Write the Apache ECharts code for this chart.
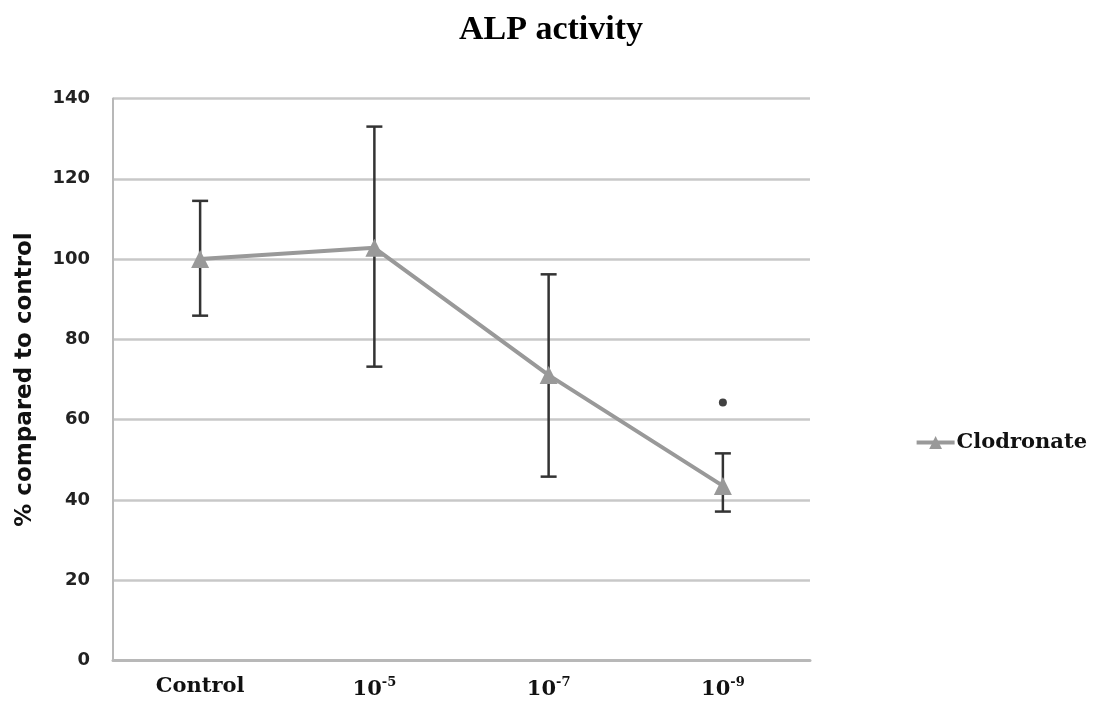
<!DOCTYPE html>
<html>
<head>
<meta charset="utf-8">
<script src="https://cdn.jsdelivr.net/npm/echarts@6/dist/echarts.min.js"></script>
<style>
  html, body { margin: 0; padding: 0; background: #fff; }
  #chart { width: 1102px; height: 704px; }
</style>
</head>
<body>
<div id="chart"></div>
<script>
// Concentrations of clodronate (Control, then 10^-5, 10^-7, 10^-9 M)
const categories = ['Control', '10^-5', '10^-7', '10^-9'];
// Mean ALP activity, % of control
const meanValues = [100, 102.8, 71.1, 43.5];
// Error bar ends
const errLow = [85.9, 73.2, 45.8, 37.1];
const errHigh = [114.5, 133.0, 96.2, 51.6];
// Significance mark above the 10^-9 group
const sigMarks = [[3, 64.3]];
const yTicks = [0, 20, 40, 60, 80, 100, 120, 140];

const chart = echarts.init(document.getElementById('chart'));

function catLabel(v) {
  if (v.indexOf('^') < 0) return '{b|' + v + '}';
  const parts = v.split('^');
  return '{b|' + parts[0] + '}{s|' + parts[1] + '}';
}

chart.setOption({
  animation: false,
  backgroundColor: '#ffffff',
  title: {
    text: 'ALP activity',
    left: 'center',
    top: 8,
    textStyle: { fontFamily: 'Liberation Serif', fontWeight: 'bold', fontSize: 34, color: '#000' }
  },
  legend: {
    data: ['Clodronate'],
    right: 10,
    top: 427,
    itemWidth: 38,
    itemHeight: 16,
    lineStyle: { width: 4 },
    textStyle: { fontFamily: 'DejaVu Serif', fontWeight: 'bold', fontSize: 21, color: '#111', padding: [0, 0, 0, -3] }
  },
  grid: { left: 113, right: 292, top: 98.5, bottom: 43.5, containLabel: false },
  xAxis: {
    type: 'category',
    data: categories,
    axisLine: { lineStyle: { color: '#b8b8b8', width: 3 } },
    axisTick: { show: false },
    axisLabel: {
      margin: 16,
      formatter: catLabel,
      rich: {
        b: { fontFamily: 'DejaVu Serif', fontWeight: 'bold', fontSize: 21, color: '#111', verticalAlign: 'bottom' },
        s: { fontFamily: 'DejaVu Serif', fontWeight: 'bold', fontSize: 13, color: '#111', verticalAlign: 'top', padding: [0, 0, 11, 0] }
      }
    }
  },
  yAxis: {
    type: 'value',
    min: 0,
    max: 140,
    interval: 20,
    name: '% compared to control',
    nameLocation: 'middle',
    nameGap: 76,
    nameTextStyle: { fontFamily: 'DejaVu Sans', fontWeight: 'bold', fontSize: 23, color: '#111' },
    axisLine: { show: true, lineStyle: { color: '#b8b8b8', width: 2 } },
    axisTick: { show: false },
    splitLine: { lineStyle: { color: '#c8c8c8', width: 2.5 } },
    axisLabel: {
      margin: 23,
      fontFamily: 'DejaVu Sans',
      fontWeight: 'bold',
      fontSize: 18,
      color: '#222',
      formatter: v => yTicks.indexOf(v) >= 0 ? String(v) : ''
    }
  },
  series: [
    {
      name: 'error',
      type: 'custom',
      z: 3,
      data: categories.map((c, i) => [i, errLow[i], errHigh[i]]),
      renderItem: function (params, api) {
        const i = api.value(0);
        const lo = api.coord([i, api.value(1)]);
        const hi = api.coord([i, api.value(2)]);
        const hw = 8;
        const style = { stroke: '#333333', lineWidth: 2.5 };
        return {
          type: 'group',
          children: [
            { type: 'line', shape: { x1: lo[0], y1: lo[1], x2: hi[0], y2: hi[1] }, style },
            { type: 'line', shape: { x1: hi[0] - hw, y1: hi[1], x2: hi[0] + hw, y2: hi[1] }, style },
            { type: 'line', shape: { x1: lo[0] - hw, y1: lo[1], x2: lo[0] + hw, y2: lo[1] }, style }
          ]
        };
      }
    },
    {
      name: 'Clodronate',
      type: 'line',
      z: 4,
      data: meanValues,
      symbol: 'triangle',
      symbolSize: 18,
      lineStyle: { color: '#999999', width: 4 },
      itemStyle: { color: '#999999' }
    },
    {
      name: 'sig',
      type: 'scatter',
      z: 5,
      data: sigMarks,
      symbol: 'circle',
      symbolSize: 8,
      itemStyle: { color: '#111' }
    }
  ]
});
</script>
</body>
</html>
